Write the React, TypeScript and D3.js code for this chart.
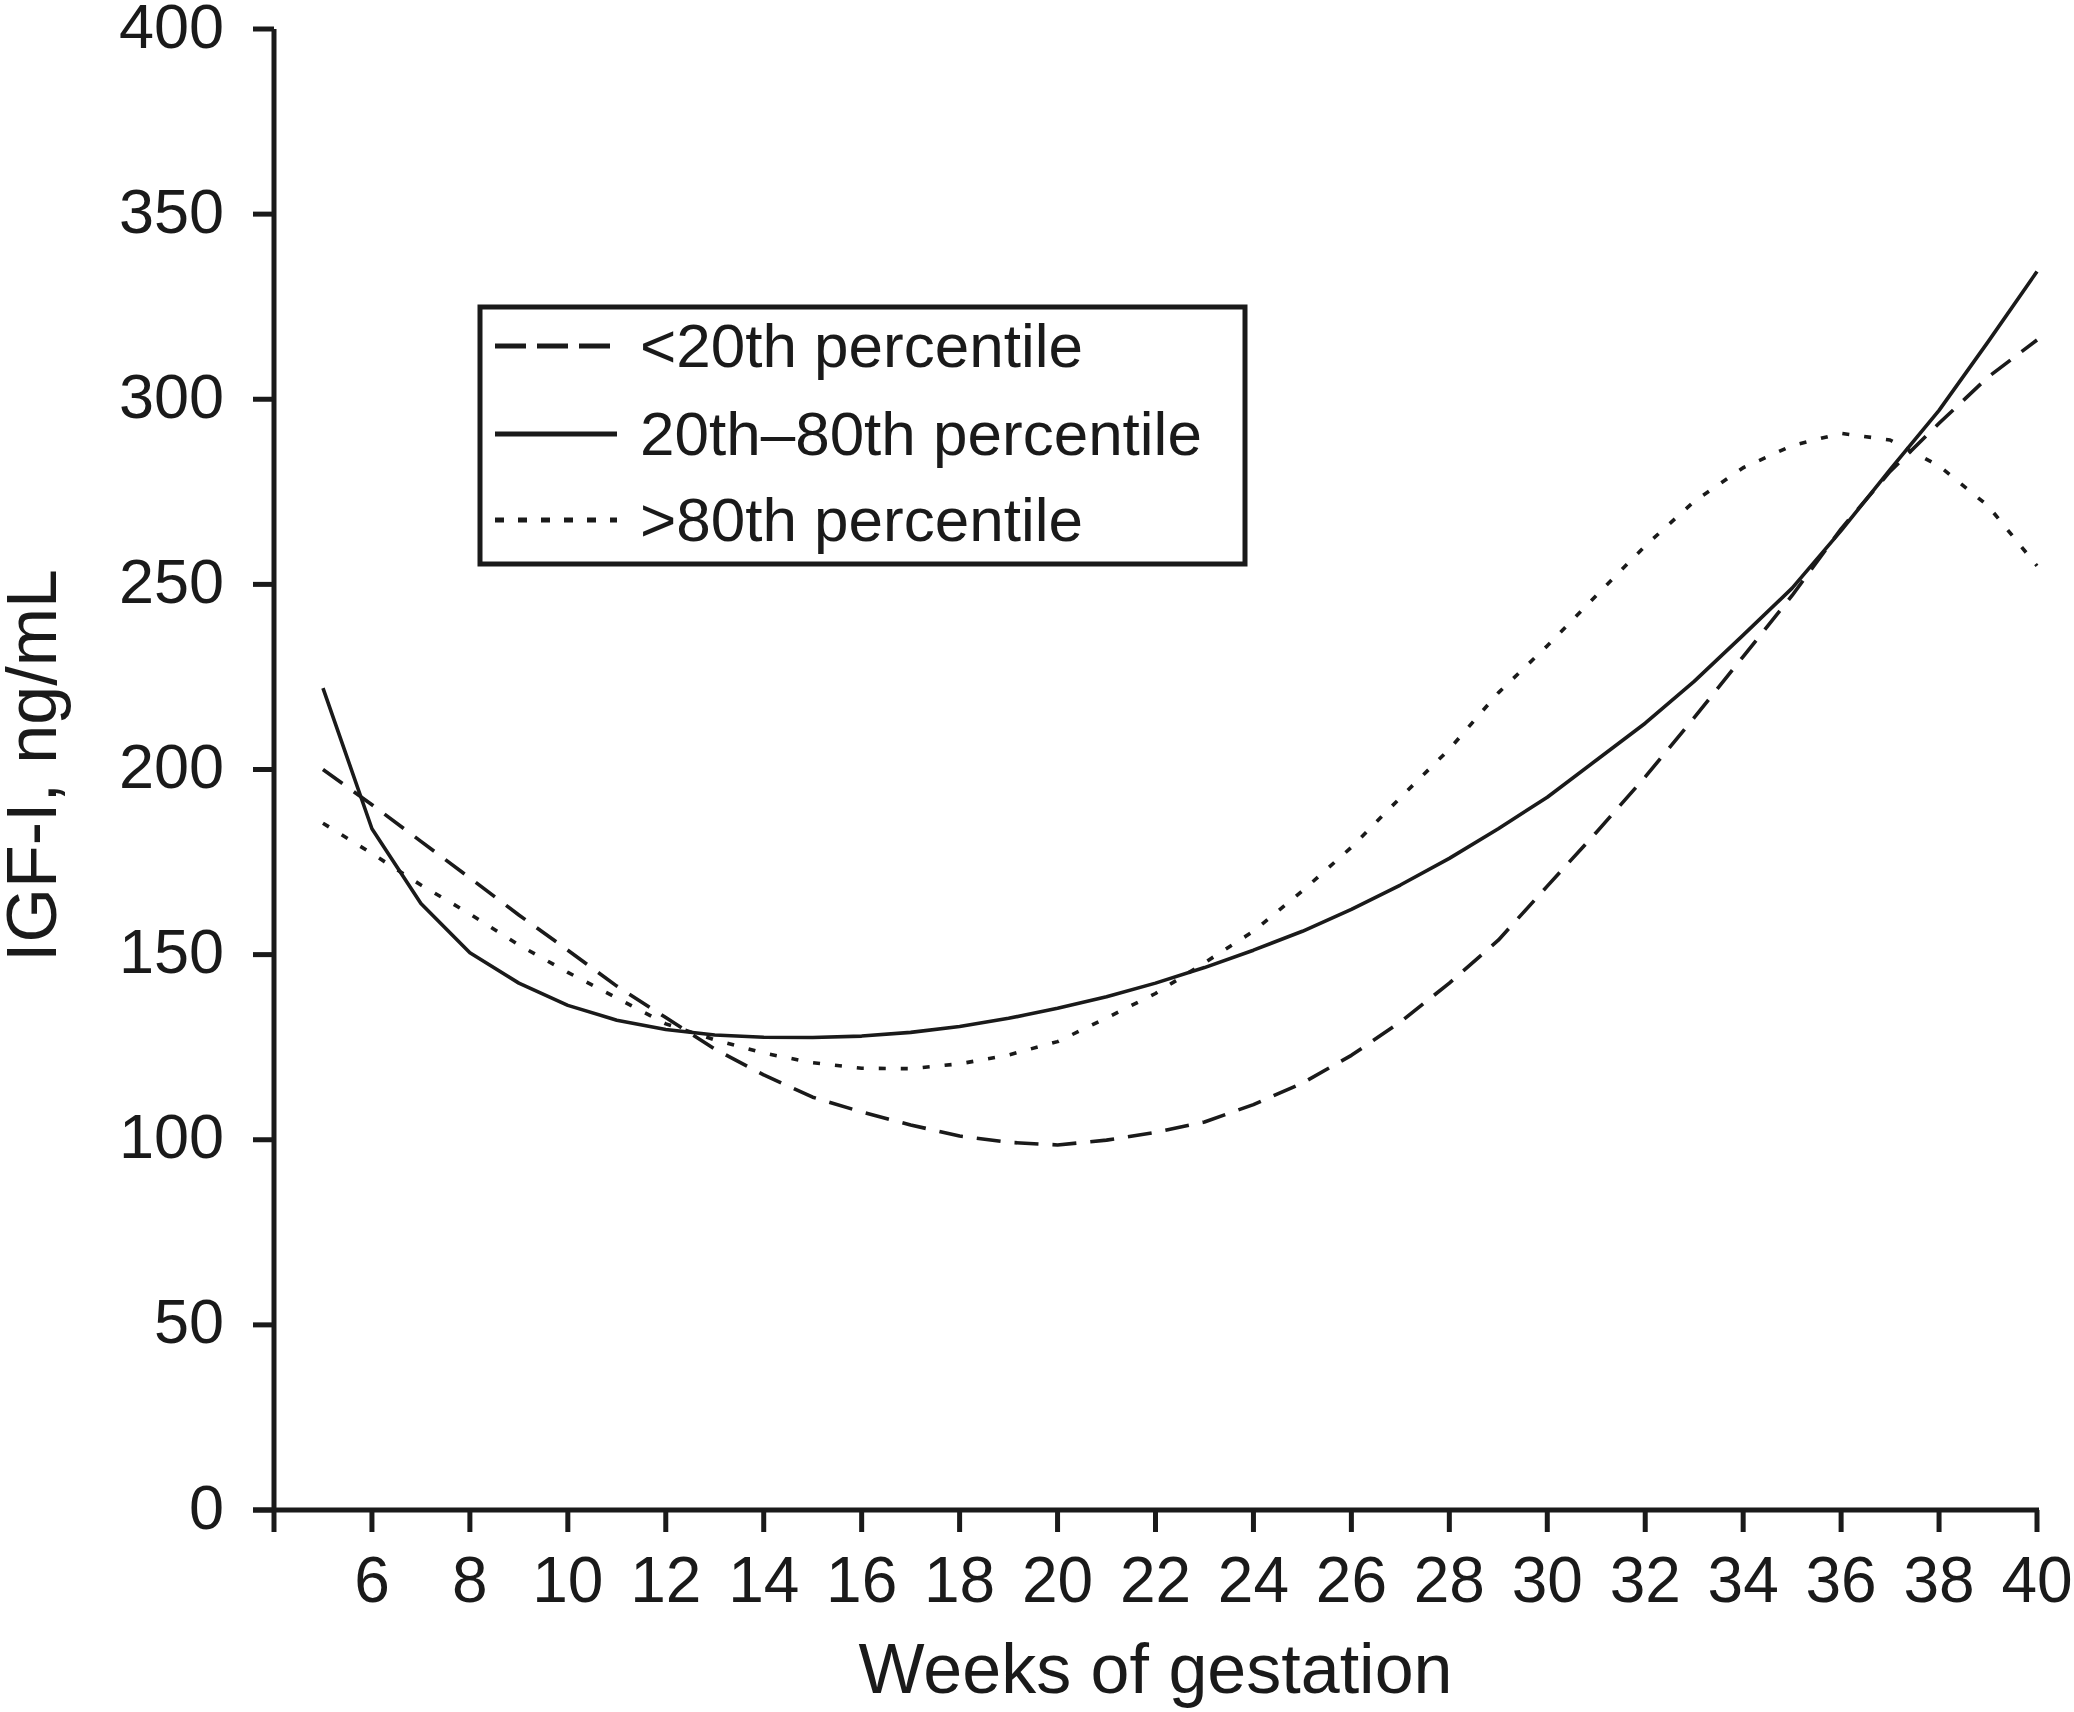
import React from "react";
import * as d3 from "d3";

const weeks = [5,6,7,8,9,10,11,12,13,14,15,16,17,18,19,20,21,22,23,24,25,26,27,28,29,30,31,32,33,34,35,36,37,38,39,40];

const below20 = [200,190.5,180.6,170.7,160.7,151.2,141.5,133,124.5,117.5,111.5,107.5,104,101,99.3,98.6,99.9,102,104.8,109.5,115.3,122.8,131.8,142.3,153.9,168.5,183,198,214,230.5,247,265,280.5,293.5,306,316];

const mid20to80 = [222,184,163.8,150.5,142.3,136.3,132.3,129.8,128.3,127.7,127.6,128,129,130.6,132.8,135.5,138.6,142.3,146.5,151.2,156.3,162.2,168.8,176,184,192.5,202.5,212.5,223.8,236.3,249,264.5,281,297,315.5,334.5];

const above80 = [185.5,177.3,168.8,161,152.6,145.2,138.3,131.3,127,123.4,120.8,119.3,119.2,120.5,122.9,126.5,132.9,139.5,147.8,156.3,167.2,179,192.4,205.5,220.7,233.4,247,260.4,272.4,281.5,287.5,290.8,289,282,271.2,255];

const xTicks = [4,6,8,10,12,14,16,18,20,22,24,26,28,30,32,34,36,38,40];
const xTickLabels = ["","6","8","10","12","14","16","18","20","22","24","26","28","30","32","34","36","38","40"];
const yTicks = [0,50,100,150,200,250,300,350,400];

const legendLabels = ["<20th percentile", "20th\u201380th percentile", ">80th percentile"];

const seriesList = [
  { name: legendLabels[0], values: below20, dash: "24 14", legendDash: "31 11" },
  { name: legendLabels[1], values: mid20to80, dash: "none", legendDash: "none" },
  { name: legendLabels[2], values: above80, dash: "7 15", legendDash: "9 14" },
];

const FONT = "'Liberation Sans', Arial, Helvetica, sans-serif";

export default function App() {
  const W = 2074, H = 1712;
  const x = d3.scaleLinear().domain([4, 40]).range([274, 2037]);
  const y = d3.scaleLinear().domain([0, 400]).range([1510, 29]);
  const line = d3.line<number>()
    .x((_, i) => x(weeks[i]))
    .y((v) => y(v))
    .curve(d3.curveLinear);

  const legendRowsY = [346, 434, 520];

  return (
    <svg width={W} height={H} viewBox={`0 0 ${W} ${H}`}
      style={{ position: "absolute", left: 0, top: 0, display: "block", background: "#fff" }}
      fontFamily={FONT}>
      <rect x={0} y={0} width={W} height={H} fill="#fff" />
      {/* curves */}
      {seriesList.map((s) => (
        <path key={s.name} d={line(s.values) || ""} fill="none" stroke="#1a1a1a"
          strokeWidth={3.6} strokeDasharray={s.dash} strokeLinejoin="round" />
      ))}
      {/* y axis */}
      <line x1={x(4)} x2={x(4)} y1={y(400)} y2={y(0)} stroke="#1a1a1a" strokeWidth={5} />
      {yTicks.map((t) => (
        <g key={"y" + t}>
          <line x1={x(4) - 21} x2={x(4)} y1={y(t)} y2={y(t)} stroke="#1a1a1a" strokeWidth={5} />
          <text x={224} y={y(t) + 18.5} textAnchor="end" fontSize={63} fill="#1a1a1a">{t}</text>
        </g>
      ))}
      {/* x axis */}
      <line x1={x(4) - 21} x2={x(40) + 2} y1={y(0)} y2={y(0)} stroke="#1a1a1a" strokeWidth={5} />
      {xTicks.map((t, i) => (
        <g key={"x" + t}>
          <line x1={x(t)} x2={x(t)} y1={y(0)} y2={y(0) + 22} stroke="#1a1a1a" strokeWidth={5} />
          <text x={x(t)} y={1602} textAnchor="middle" fontSize={64} fill="#1a1a1a">{xTickLabels[i]}</text>
        </g>
      ))}
      {/* axis titles */}
      <text x={(x(4) + x(40)) / 2} y={1693} textAnchor="middle" fontSize={70} fill="#1a1a1a">Weeks of gestation</text>
      <text transform={`translate(56, ${(y(0) + y(400)) / 2 - 4}) rotate(-90)`} textAnchor="middle" fontSize={70} fill="#1a1a1a">IGF-I, ng/mL</text>
      {/* legend */}
      <rect x={480} y={307} width={765} height={257} fill="#fff" stroke="#1a1a1a" strokeWidth={5} />
      {seriesList.map((s, i) => (
        <g key={"lg" + i}>
          <line x1={495} x2={617} y1={legendRowsY[i]} y2={legendRowsY[i]} stroke="#1a1a1a"
            strokeWidth={5} strokeDasharray={s.legendDash} />
          <text x={640} y={legendRowsY[i] + 21} fontSize={62} fill="#1a1a1a">{s.name}</text>
        </g>
      ))}
    </svg>
  );
}
